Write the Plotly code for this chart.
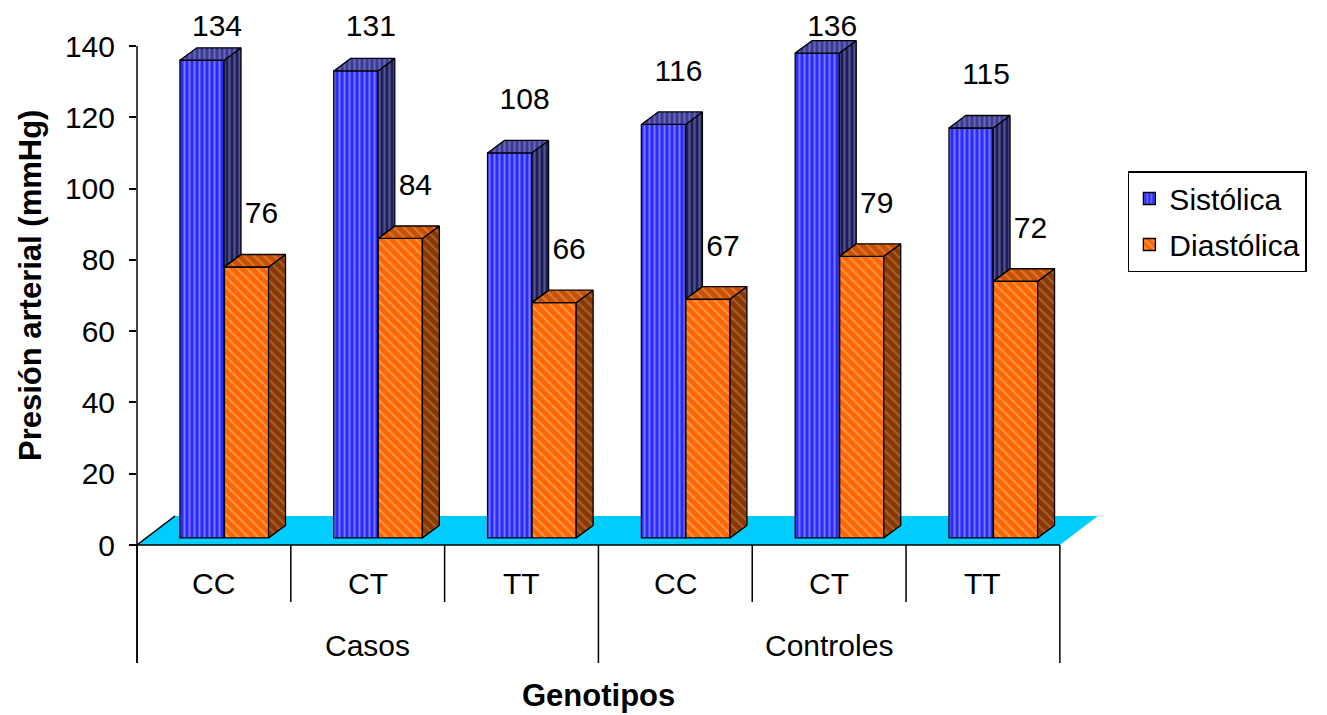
import plotly.graph_objects as go

# ---- data ----
grupos = ["Casos", "Controles"]
genotipos = ["CC", "CT", "TT", "CC", "CT", "TT"]
sistolica = [134, 131, 108, 116, 136, 115]
diastolica = [76, 84, 66, 67, 79, 72]
y_ticks = [0, 20, 40, 60, 80, 100, 120, 140]

# ---- geometry of the pseudo-3D layout (axis units) ----
XMAX = 6.3          # x range, one unit per genotype slot
YMAX = 150.1        # y range in mmHg
BASE = 2.0          # bars stand a little behind the front edge of the floor
W = 0.287           # bar width
OFF_S, OFF_D = 0.4226, 0.712   # bar centres inside each slot
DX, DY = 0.11, 3.5  # bar depth
FDX, FDY = 0.247, 8.14   # floor depth

L, T, B = 137, 10, 170
FIG_W, FIG_H = 1327, 715
plot_w = 153.83 * XMAX
plot_h = FIG_H - T - B
R = FIG_W - L - plot_w
uy = plot_h / YMAX   # px per mmHg


def px_x(px):
    return (px - L) / plot_w


def px_y(py):
    return (FIG_H - B - py) / plot_h


FONT = "Liberation Sans, Arial, sans-serif"
FS = 30
FS_TITLE = 31

n = len(genotipos)
xs = [i + OFF_S for i in range(n)]
xd = [i + OFF_D for i in range(n)]

fig = go.Figure()

fig.add_trace(go.Bar(
    x=xs, y=sistolica, base=BASE, width=W, name="Sistólica",
    legendgroup="s",
    marker=dict(color="#2a2aff", line=dict(color="black", width=1.3),
                pattern=dict(shape="|", bgcolor="#2a2aff", fgcolor="#c4c4ff",
                             size=5, solidity=0.4)),
    hoverinfo="skip",
))
fig.add_trace(go.Bar(
    x=xd, y=diastolica, base=BASE, width=W, name="Diastólica",
    legendgroup="d",
    marker=dict(color="#ff6600", line=dict(color="black", width=1.3),
                pattern=dict(shape="\\", bgcolor="#ff6600", fgcolor="#ffc894",
                             size=7, solidity=0.3)),
    hoverinfo="skip",
))


def faces(kind):
    px, py = [], []
    for i in range(n):
        ts = BASE + sistolica[i]
        td = BASE + diastolica[i]
        s0, s1 = xs[i] - W / 2, xs[i] + W / 2
        d0, d1 = xd[i] - W / 2, xd[i] + W / 2
        if kind == "s_side":
            lo = min(td, ts)
            pts = [(s1, lo), (s1 + DX, lo + DY), (s1 + DX, ts + DY), (s1, ts)]
        elif kind == "s_top":
            pts = [(s0, ts), (s0 + DX, ts + DY), (s1 + DX, ts + DY), (s1, ts)]
        elif kind == "d_side":
            pts = [(d1, BASE), (d1 + DX, BASE + DY), (d1 + DX, td + DY), (d1, td)]
        else:
            pts = [(d0, td), (d0 + DX, td + DY), (d1 + DX, td + DY), (d1, td)]
        pts.append(pts[0])
        px += [p[0] for p in pts] + [None]
        py += [p[1] for p in pts] + [None]
    return px, py


face_styles = {
    "s_side": ("#1c1c60", "#8c8ca8", "|", 5, 0.45),
    "s_top": ("#3a3a9a", "#9a9ac8", "|", 5, 0.4),
    "d_side": ("#8a3800", "#c08a66", "\\", 7, 0.3),
    "d_top": ("#c85000", "#eaa070", "\\", 7, 0.3),
}
for kind, (bg, fg, shp, sz, sol) in face_styles.items():
    fx, fy = faces(kind)
    fig.add_trace(go.Scatter(
        x=fx, y=fy, mode="lines", fill="toself",
        fillcolor=bg,
        fillpattern=dict(shape=shp, bgcolor=bg, fgcolor=fg, size=sz, solidity=sol),
        line=dict(color="black", width=1.3),
        showlegend=False, hoverinfo="skip",
    ))

# value labels above each column
LABEL_GAP = 51 / uy
LABEL_MAX = (FIG_H - B - 28) / uy
lab_x = [x + 0.0975 for x in xs] + [x + 0.0975 for x in xd]
lab_y = [min(BASE + v + LABEL_GAP, LABEL_MAX) for v in sistolica + diastolica]
lab_t = [str(v) for v in sistolica + diastolica]
fig.add_trace(go.Scatter(
    x=lab_x, y=lab_y, text=lab_t, mode="text", textposition="middle center",
    textfont=dict(family=FONT, size=FS, color="black"),
    showlegend=False, hoverinfo="skip", cliponaxis=False,
))

shapes = []
# floor
shapes.append(dict(
    type="path", xref="x", yref="y", layer="below",
    path=f"M 0 0 L {FDX} {FDY} L {n + FDX} {FDY} L {n} 0 Z",
    fillcolor="#00ccff", line=dict(width=0),
))
shapes.append(dict(type="line", xref="x", yref="y", x0=0, y0=0, x1=FDX, y1=FDY,
                   line=dict(color="black", width=1.5)))
# value axis line
shapes.append(dict(type="line", xref="paper", yref="paper",
                   x0=0, x1=0, y0=px_y(46), y1=px_y(663),
                   line=dict(color="black", width=1.5)))
# category axis line
shapes.append(dict(type="line", xref="paper", yref="paper",
                   x0=px_x(130), x1=px_x(L + 153.83 * n), y0=0, y1=0,
                   line=dict(color="black", width=1.5)))
# category separators
for k in range(n + 1):
    low = 663 if k % 3 == 0 else 602
    xk = px_x(L + 153.83 * k)
    shapes.append(dict(type="line", xref="paper", yref="paper",
                       x0=xk, x1=xk, y0=0, y1=px_y(low),
                       line=dict(color="black", width=1.5)))

annotations = []
for i, g in enumerate(genotipos):
    annotations.append(dict(x=i + 0.5, y=px_y(583), xref="x", yref="paper",
                            xanchor="center", yanchor="middle",
                            text=g, showarrow=False,
                            font=dict(family=FONT, size=FS, color="black")))
for j, g in enumerate(grupos):
    annotations.append(dict(x=3 * j + 1.5, y=px_y(645), xref="x", yref="paper",
                            xanchor="center", yanchor="middle",
                            text=g, showarrow=False,
                            font=dict(family=FONT, size=FS, color="black")))
annotations.append(dict(x=3, y=px_y(695), xref="x", yref="paper",
                        xanchor="center", yanchor="middle",
                        text="<b>Genotipos</b>", showarrow=False,
                        font=dict(family=FONT, size=FS_TITLE, color="black")))
annotations.append(dict(x=px_x(30), y=px_y(286), xref="paper", yref="paper",
                        xanchor="center", yanchor="middle",
                        text="<b>Presión arterial (mmHg)</b>", textangle=-90,
                        showarrow=False,
                        font=dict(family=FONT, size=FS_TITLE, color="black")))

fig.update_layout(
    width=FIG_W, height=FIG_H,
    margin=dict(l=L, r=R, t=T, b=B, pad=0),
    paper_bgcolor="white", plot_bgcolor="white",
    barmode="overlay",
    showlegend=True,
    legend=dict(x=px_x(1128), y=px_y(171), xanchor="left", yanchor="top",
                bordercolor="black", borderwidth=1.5, bgcolor="white",
                font=dict(family=FONT, size=FS, color="black"),
                tracegroupgap=4, traceorder="grouped"),
    xaxis=dict(range=[0, XMAX], showgrid=False, zeroline=False,
               showticklabels=False, ticks="", showline=False, fixedrange=True),
    yaxis=dict(range=[0, YMAX], tickvals=y_ticks, ticks="outside", ticklen=7,
               tickwidth=1.5, tickcolor="black", showgrid=False, zeroline=False,
               showline=False, ticklabelstandoff=8,
               tickfont=dict(family=FONT, size=FS, color="black"),
               fixedrange=True),
    shapes=shapes, annotations=annotations,
)

fig.write_html("out.html")
